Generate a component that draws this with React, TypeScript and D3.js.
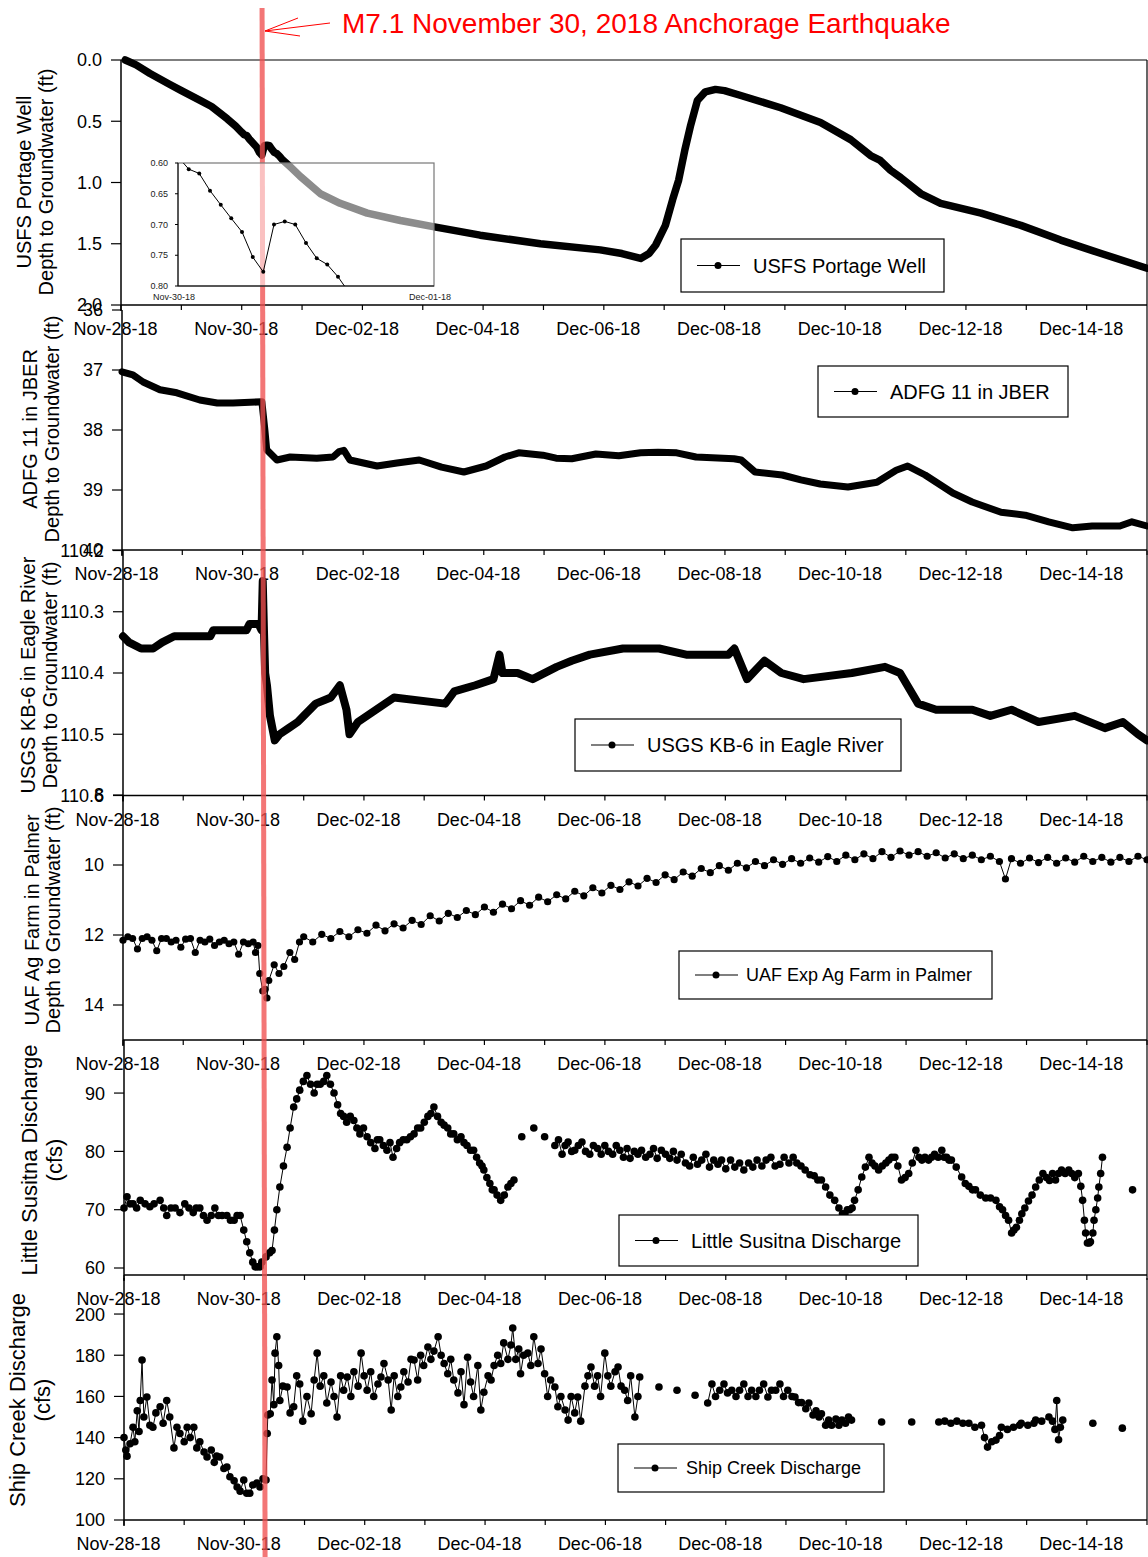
import React, { useEffect } from 'react';
import * as d3 from 'd3';

type Pt = [number, number | null];

const W = 1148;
const H = 1557;
const RIGHT = 1147;
const FONT = "'Liberation Sans', Arial, Helvetica, sans-serif";

// time axis: days since Nov-28-18 00:00
const dayTicks = [0, 1, 2, 3, 4, 5, 6, 7, 8, 9, 10, 11, 12, 13, 14, 15, 16, 17];
const labelDays = [0, 2, 4, 6, 8, 10, 12, 14, 16];
const dateLabels = ['Nov-28-18', 'Nov-30-18', 'Dec-02-18', 'Dec-04-18', 'Dec-06-18', 'Dec-08-18', 'Dec-10-18', 'Dec-12-18', 'Dec-14-18'];
const quakeDay = 2.354;

// USFS Portage Well, depth to groundwater (ft)
const portageWell: Pt[] = [
  [0.07, 0.0], [0.25, 0.04], [0.48, 0.11], [0.81, 0.2], [1.0, 0.25], [1.31, 0.33], [1.5, 0.38], [1.76, 0.48], [1.9, 0.54], [2.0, 0.59],
  [2.042, 0.61], [2.083, 0.617], [2.125, 0.645], [2.167, 0.668], [2.208, 0.69], [2.25, 0.712], [2.292, 0.753], [2.333, 0.777],
  [2.375, 0.7], [2.417, 0.695], [2.458, 0.7], [2.5, 0.73], [2.542, 0.755], [2.583, 0.765], [2.625, 0.785], [2.667, 0.81],
  [2.8, 0.87], [2.97, 0.95], [3.3, 1.09], [3.63, 1.17], [4.08, 1.25], [4.63, 1.31], [5.17, 1.36], [5.95, 1.43], [6.95, 1.5],
  [7.94, 1.55], [8.3, 1.58], [8.61, 1.62], [8.75, 1.58], [8.86, 1.51], [9.02, 1.35], [9.14, 1.14], [9.24, 0.98], [9.34, 0.74],
  [9.44, 0.53], [9.55, 0.33], [9.68, 0.26], [9.85, 0.24], [10.0, 0.25], [10.27, 0.29], [10.93, 0.39], [11.59, 0.51], [12.09, 0.65],
  [12.42, 0.78], [12.58, 0.82], [12.75, 0.9], [12.92, 0.96], [13.25, 1.09], [13.58, 1.17], [14.25, 1.25], [14.91, 1.35],
  [15.57, 1.47], [16.24, 1.58], [17.0, 1.7],
];

// ADFG 11 in JBER, depth to groundwater (ft)
const adfg11: Pt[] = [
  [0, 37.03], [0.18, 37.08], [0.35, 37.2], [0.63, 37.33], [0.91, 37.38], [1.29, 37.5], [1.58, 37.55], [1.84, 37.55], [2.32, 37.53],
  [2.37, 38.0], [2.4, 38.33], [2.57, 38.5], [2.79, 38.45], [3.23, 38.47], [3.5, 38.45], [3.6, 38.36], [3.68, 38.34], [3.78, 38.5],
  [4.23, 38.6], [4.56, 38.55], [4.93, 38.5], [5.3, 38.62], [5.67, 38.7], [6.04, 38.6], [6.35, 38.45], [6.58, 38.38], [6.98, 38.42],
  [7.2, 38.47], [7.46, 38.48], [7.86, 38.4], [8.24, 38.43], [8.6, 38.38], [8.89, 38.37], [9.2, 38.38], [9.52, 38.45], [10.15, 38.48],
  [10.27, 38.5], [10.5, 38.7], [10.95, 38.75], [11.26, 38.83], [11.58, 38.9], [12.04, 38.95], [12.52, 38.87], [12.84, 38.67],
  [13.03, 38.6], [13.32, 38.75], [13.78, 39.05], [14.1, 39.2], [14.58, 39.37], [14.98, 39.42], [15.37, 39.53], [15.77, 39.63],
  [16.09, 39.6], [16.55, 39.6], [16.75, 39.53], [17.0, 39.6],
];

// USGS KB-6 in Eagle River, depth to groundwater (ft)
const kb6: Pt[] = [
  [0, 110.34], [0.1, 110.35], [0.3, 110.36], [0.5, 110.36], [0.65, 110.35], [0.85, 110.34], [1.45, 110.34], [1.5, 110.33],
  [2.05, 110.33], [2.1, 110.32], [2.25, 110.32], [2.3, 110.33], [2.32, 110.25], [2.34, 110.33], [2.36, 110.4], [2.39, 110.42],
  [2.44, 110.47], [2.52, 110.51], [2.6, 110.5], [2.75, 110.49], [2.9, 110.48], [3.0, 110.47], [3.2, 110.45], [3.45, 110.44],
  [3.6, 110.42], [3.71, 110.46], [3.76, 110.5], [3.9, 110.48], [4.2, 110.46], [4.5, 110.44], [5.35, 110.45], [5.5, 110.43],
  [5.85, 110.42], [6.15, 110.41], [6.25, 110.37], [6.3, 110.4], [6.55, 110.4], [6.8, 110.41], [7.2, 110.39], [7.45, 110.38],
  [7.75, 110.37], [8.3, 110.36], [8.9, 110.36], [9.35, 110.37], [10.05, 110.37], [10.15, 110.36], [10.36, 110.41], [10.65, 110.38],
  [10.93, 110.4], [11.3, 110.41], [12.1, 110.4], [12.65, 110.39], [12.9, 110.4], [13.2, 110.45], [13.5, 110.46], [14.1, 110.46],
  [14.4, 110.47], [14.75, 110.46], [15.2, 110.48], [15.8, 110.47], [16.3, 110.49], [16.6, 110.48], [16.85, 110.5], [17.0, 110.51],
];

// UAF Exp Ag Farm in Palmer, depth to groundwater (ft)
const agFarm: Pt[] = [
  [0.0, 12.15], [0.08, 12.05], [0.16, 12.1], [0.24, 12.4], [0.32, 12.1], [0.4, 12.05], [0.48, 12.15], [0.56, 12.45], [0.64, 12.1],
  [0.72, 12.1], [0.8, 12.2], [0.88, 12.15], [0.96, 12.35], [1.04, 12.12], [1.12, 12.1], [1.2, 12.5], [1.28, 12.15], [1.36, 12.2],
  [1.44, 12.12], [1.52, 12.3], [1.6, 12.2], [1.68, 12.15], [1.76, 12.25], [1.84, 12.2], [1.92, 12.55], [2.0, 12.2], [2.08, 12.25],
  [2.16, 12.2], [2.2, 12.5], [2.24, 12.3], [2.27, 13.1], [2.32, 13.6], [2.36, 13.55], [2.39, 13.8], [2.42, 13.3], [2.51, 12.85],
  [2.59, 13.1], [2.67, 12.9], [2.77, 12.5], [2.85, 12.7], [2.93, 12.2], [3.0, 12.05], [3.15, 12.2], [3.3, 11.98], [3.45, 12.1],
  [3.6, 11.9], [3.75, 12.05], [3.9, 11.85], [4.05, 11.95], [4.2, 11.72], [4.35, 11.88], [4.5, 11.68], [4.65, 11.8], [4.8, 11.58],
  [4.95, 11.7], [5.1, 11.45], [5.25, 11.6], [5.4, 11.38], [5.55, 11.5], [5.7, 11.3], [5.85, 11.42], [6.0, 11.2], [6.15, 11.35],
  [6.3, 11.12], [6.45, 11.25], [6.6, 11.02], [6.75, 11.15], [6.9, 10.92], [7.05, 11.05], [7.2, 10.85], [7.35, 10.97], [7.5, 10.75],
  [7.65, 10.88], [7.8, 10.65], [7.95, 10.8], [8.1, 10.58], [8.25, 10.7], [8.4, 10.48], [8.55, 10.6], [8.7, 10.38], [8.85, 10.5],
  [9.0, 10.28], [9.15, 10.42], [9.3, 10.2], [9.45, 10.32], [9.6, 10.1], [9.75, 10.22], [9.9, 10.02], [10.05, 10.15], [10.2, 9.95],
  [10.35, 10.08], [10.5, 9.9], [10.65, 10.02], [10.8, 9.85], [10.95, 9.98], [11.1, 9.82], [11.25, 9.95], [11.4, 9.8], [11.55, 9.92],
  [11.7, 9.76], [11.85, 9.9], [12.0, 9.72], [12.15, 9.85], [12.3, 9.68], [12.45, 9.82], [12.6, 9.62], [12.75, 9.78], [12.9, 9.6],
  [13.05, 9.72], [13.2, 9.62], [13.35, 9.75], [13.5, 9.65], [13.65, 9.8], [13.8, 9.68], [13.95, 9.82], [14.1, 9.72], [14.25, 9.85],
  [14.4, 9.75], [14.55, 9.9], [14.65, 10.4], [14.75, 9.82], [14.9, 9.95], [15.05, 9.8], [15.2, 9.93], [15.35, 9.78], [15.5, 9.95],
  [15.65, 9.8], [15.8, 9.92], [15.95, 9.75], [16.1, 9.9], [16.25, 9.78], [16.4, 9.92], [16.55, 9.78], [16.7, 9.9], [16.85, 9.75],
  [17.0, 9.85],
];

// Little Susitna discharge (cfs)
const littleSusitna: Pt[] = [
  [0.0, 70.3], [0.05, 72.2], [0.1, 71], [0.15, 71], [0.21, 70.3], [0.27, 71.6], [0.35, 71], [0.43, 70.5], [0.5, 71], [0.6, 71.6],
  [0.66, 70.3], [0.71, 69], [0.78, 70.3], [0.85, 70.3], [0.93, 69.5], [1.01, 71], [1.08, 70.3], [1.15, 69.5], [1.2, 70.3],
  [1.26, 70.3], [1.32, 69], [1.38, 68.2], [1.45, 69], [1.51, 70.3], [1.57, 69], [1.63, 69], [1.71, 69], [1.77, 68.2], [1.83, 68.2],
  [1.88, 69], [1.93, 69], [1.99, 66.5], [2.04, 64.5], [2.09, 62.6], [2.14, 61], [2.18, 60.2], [2.22, 60.2], [2.26, 60.2],
  [2.29, 61], [2.36, 61.9], [2.42, 62.6], [2.46, 63], [2.5, 66.5], [2.54, 70], [2.59, 73.9], [2.65, 77.5], [2.71, 80.7],
  [2.76, 84], [2.82, 87.6], [2.87, 89], [2.92, 90.5], [2.98, 92], [3.04, 93], [3.1, 91.5], [3.16, 90], [3.21, 91.5], [3.26, 91.5],
  [3.32, 92], [3.37, 93], [3.43, 91.5], [3.49, 90], [3.55, 88], [3.6, 86.5], [3.65, 86], [3.7, 85], [3.76, 86], [3.82, 85.3],
  [3.87, 84], [3.92, 83], [3.98, 84], [4.04, 82.5], [4.1, 81.5], [4.17, 80.5], [4.21, 82], [4.25, 82], [4.31, 81], [4.37, 80.2],
  [4.42, 81.5], [4.47, 79], [4.53, 80.5], [4.58, 81.5], [4.64, 82], [4.7, 82], [4.76, 82.5], [4.82, 83], [4.88, 84], [4.93, 84],
  [4.99, 85], [5.05, 86], [5.1, 86.5], [5.15, 87.6], [5.21, 86], [5.27, 85], [5.32, 84.5], [5.38, 84], [5.43, 83], [5.48, 83],
  [5.54, 82], [5.6, 82.5], [5.65, 81.5], [5.7, 81], [5.76, 80.2], [5.81, 80.2], [5.86, 79], [5.91, 78], [5.95, 77.5], [5.98, 76.8],
  [6.03, 75.5], [6.08, 74.5], [6.12, 73.4], [6.15, 73.4], [6.2, 72.5], [6.26, 71.6], [6.32, 72.5], [6.38, 73.9], [6.43, 74.5],
  [6.48, 75.1], [6.55, null], [6.61, 82.5], [6.7, null], [6.81, 84], [6.9, null], [6.99, 82.5], [7.08, null],
  [7.16, 81], [7.22, 82], [7.28, 79.5], [7.33, 81], [7.38, 81.6], [7.44, 80], [7.49, 80.2], [7.55, 81], [7.61, 81.6], [7.67, 80],
  [7.74, 79.5], [7.8, 81], [7.87, 80.5], [7.93, 79.5], [7.99, 81], [8.05, 80], [8.12, 79.5], [8.18, 81], [8.24, 80.2], [8.3, 79],
  [8.36, 80.5], [8.41, 78.8], [8.48, 80], [8.54, 79.5], [8.6, 80.2], [8.67, 79], [8.74, 79.5], [8.8, 80.5], [8.86, 78.8],
  [8.93, 80.2], [9.0, 79.5], [9.07, 78.8], [9.13, 80], [9.19, 78.5], [9.26, 79.5], [9.33, 78], [9.4, 77.5], [9.46, 79],
  [9.53, 77.8], [9.6, 78.5], [9.67, 79.5], [9.73, 77.3], [9.8, 78.5], [9.87, 77.8], [9.93, 78.5], [10.0, 77], [10.08, 78.5],
  [10.15, 77.3], [10.23, 78], [10.3, 76.8], [10.38, 78], [10.45, 77.3], [10.52, 78.5], [10.6, 77.5], [10.67, 78.5], [10.75, 79],
  [10.82, 77.5], [10.9, 77.8], [10.97, 79], [11.05, 78], [11.12, 79], [11.18, 78], [11.25, 77.5], [11.32, 76.8], [11.4, 76],
  [11.47, 75.8], [11.53, 75.1], [11.59, 75.1], [11.66, 73.9], [11.73, 72.5], [11.81, 71.6], [11.88, 70.3], [11.94, 69.3],
  [11.98, 69.3], [12.02, 70], [12.06, 70], [12.1, 70.3], [12.14, 71.6], [12.2, 73.4], [12.26, 75.6], [12.32, 77.3], [12.38, 79],
  [12.43, 78], [12.48, 77.5], [12.54, 76.8], [12.6, 77.5], [12.66, 78], [12.71, 78.5], [12.76, 79], [12.81, 79], [12.86, 77.5],
  [12.92, 75.1], [12.98, 75.5], [13.04, 76.2], [13.1, 78], [13.16, 80.2], [13.21, 79], [13.26, 78.5], [13.31, 79], [13.37, 78.5],
  [13.42, 79], [13.47, 79.5], [13.53, 79], [13.59, 80.2], [13.63, 79], [13.67, 79], [13.71, 78.5], [13.75, 78.5], [13.83, 77.3],
  [13.92, 75.6], [13.98, 74.5], [14.04, 74], [14.1, 73.4], [14.15, 73.4], [14.23, 72.5], [14.32, 72], [14.4, 72], [14.49, 71.6],
  [14.55, 70.5], [14.6, 70], [14.65, 69], [14.7, 68.2], [14.75, 66], [14.79, 66.5], [14.83, 67], [14.88, 68.2], [14.92, 69.3],
  [14.97, 70.3], [15.03, 71.5], [15.09, 72.5], [15.15, 73.9], [15.21, 75.1], [15.27, 76.2], [15.33, 75.5], [15.38, 75],
  [15.43, 76.2], [15.48, 75.1], [15.53, 76.2], [15.58, 76.8], [15.64, 76.2], [15.7, 76.8], [15.75, 76.2], [15.8, 75.5],
  [15.86, 76.2], [15.9, 74], [15.93, 71.6], [15.96, 68.2], [15.98, 66], [16.01, 64.3], [16.04, 64.3], [16.06, 64.5], [16.1, 66],
  [16.12, 68.2], [16.15, 70], [16.18, 72], [16.2, 73.9], [16.23, 76.2], [16.26, 79], [16.5, null], [16.76, 73.4],
];

// Ship Creek discharge (cfs)
const shipCreek: Pt[] = [
  [0.0, 140], [0.03, 134], [0.05, 131], [0.1, 137], [0.15, 145], [0.18, 138], [0.22, 153], [0.25, 143], [0.27, 158], [0.3, 177.7],
  [0.33, 150], [0.38, 159.7], [0.43, 146], [0.48, 145], [0.53, 152], [0.6, 155], [0.65, 147], [0.71, 158], [0.76, 150],
  [0.83, 135], [0.88, 145], [0.93, 142], [1.0, 138], [1.05, 145], [1.1, 140], [1.16, 145], [1.21, 135], [1.26, 138], [1.33, 133],
  [1.38, 130.6], [1.45, 134], [1.5, 128], [1.54, 131], [1.59, 130.6], [1.66, 125], [1.71, 125.7], [1.76, 121], [1.83, 119],
  [1.88, 116], [1.93, 114], [1.99, 119.4], [2.04, 113], [2.09, 113], [2.14, 117], [2.21, 118], [2.26, 116], [2.31, 120],
  [2.36, 119.4], [2.38, 142], [2.39, 151], [2.43, 151.6], [2.46, 168], [2.49, 156], [2.51, 181], [2.54, 189], [2.57, 175],
  [2.59, 158], [2.64, 165], [2.71, 164.6], [2.76, 152], [2.82, 155], [2.87, 170], [2.92, 166], [2.97, 148], [3.04, 160],
  [3.11, 151.6], [3.16, 168], [3.21, 181], [3.26, 165], [3.32, 170], [3.37, 156.8], [3.44, 167], [3.49, 160], [3.54, 150],
  [3.6, 170], [3.65, 163], [3.71, 169.4], [3.77, 160], [3.82, 172], [3.89, 165], [3.94, 181], [3.99, 170], [4.04, 163],
  [4.1, 172], [4.15, 160], [4.22, 166], [4.27, 169.4], [4.32, 176], [4.39, 168], [4.44, 153.4], [4.49, 170], [4.55, 160],
  [4.6, 164.6], [4.65, 172], [4.72, 167], [4.77, 178], [4.82, 177.7], [4.88, 168], [4.93, 180], [4.98, 175], [5.05, 184],
  [5.1, 178], [5.15, 182], [5.22, 189], [5.27, 180], [5.32, 176], [5.38, 171], [5.43, 178], [5.48, 168], [5.55, 161.7],
  [5.6, 172], [5.65, 156], [5.71, 179], [5.76, 167], [5.81, 160], [5.88, 175], [5.93, 153.4], [5.98, 162], [6.05, 170],
  [6.1, 168], [6.15, 175], [6.21, 180], [6.26, 176], [6.31, 186], [6.38, 178], [6.43, 185], [6.46, 193.2], [6.51, 178],
  [6.56, 183], [6.59, 171], [6.64, 180], [6.71, 181], [6.76, 175], [6.81, 189], [6.88, 176], [6.93, 183], [6.99, 171],
  [7.04, 160], [7.09, 168], [7.16, 164.6], [7.21, 155], [7.26, 160], [7.33, 153.4], [7.38, 148.5], [7.43, 160], [7.49, 152],
  [7.54, 159.7], [7.59, 148], [7.66, 165], [7.71, 170], [7.76, 174.3], [7.82, 165], [7.87, 170], [7.92, 160], [7.99, 181],
  [8.04, 170], [8.09, 165], [8.16, 172], [8.21, 174.3], [8.26, 165], [8.32, 163], [8.37, 158], [8.42, 170], [8.49, 150],
  [8.54, 160], [8.57, 169.4], [8.7, null], [8.89, 164.6], [9.0, null], [9.19, 163], [9.3, null], [9.49, 160.6], [9.6, null],
  [9.7, 156.8], [9.77, 166], [9.83, 160], [9.9, 163], [9.97, 166], [10.03, 161.7], [10.1, 163], [10.17, 160], [10.23, 163],
  [10.3, 166], [10.37, 160], [10.43, 163], [10.5, 160], [10.56, 163], [10.63, 166], [10.7, 159.7], [10.76, 163], [10.83, 163],
  [10.9, 166], [10.96, 160], [11.03, 163], [11.1, 160], [11.15, 159.7], [11.21, 157], [11.26, 157], [11.33, 154],
  [11.38, 156.8], [11.45, 151], [11.5, 153], [11.55, 150], [11.59, 151.6], [11.66, 146], [11.71, 148.5], [11.76, 146],
  [11.83, 149], [11.88, 146], [11.93, 148.5], [11.99, 147], [12.04, 150], [12.09, 148.5], [12.3, null], [12.59, 147.6],
  [12.8, null], [13.09, 147.6], [13.3, null], [13.54, 147.6], [13.64, 148], [13.74, 147], [13.84, 148], [13.94, 147],
  [14.04, 147], [14.14, 145], [14.25, 146], [14.3, 140], [14.35, 135.4], [14.42, 138], [14.49, 138.8], [14.55, 141],
  [14.58, 145], [14.68, 144], [14.78, 145], [14.88, 146], [14.91, 147], [15.02, 146], [15.12, 147], [15.15, 148.5],
  [15.25, 148], [15.37, 150], [15.43, 148], [15.47, 144], [15.5, 158], [15.53, 139], [15.56, 145], [15.6, 148.5],
  [15.8, null], [16.1, 147], [16.3, null], [16.59, 144.6],
];

// inset (Nov-30 to Dec-01, zoom on the USFS Portage Well)
const insetTicks = [0.6, 0.65, 0.7, 0.75, 0.8];
const insetDateLabels = ['Nov-30-18', 'Dec-01-18'];

interface PanelCfg {
  id: string;
  data: Pt[];
  x0: number;
  top: number;
  bottom: number;
  yDomain: [number, number];
  ticks: number[];
  fmt: (v: number) => string;
  mode: 'thick' | 'dots';
  lineW: number;
  r: number;
  frameTop: boolean;
  legend: { x: number; y: number; w: number; h: number; tx: number; fs: number; label: string };
  title: [string, string];
  titleX: [number, number];
  titleY: number;
  titleFs: number;
}

const panels: PanelCfg[] = [
  {
    id: 'portage', data: portageWell, x0: 121, top: 60, bottom: 305, yDomain: [0, 2], ticks: [0, 0.5, 1, 1.5, 2],
    fmt: d3.format('.1f'), mode: 'thick', lineW: 7.5, r: 0, frameTop: true,
    legend: { x: 681, y: 239, w: 263, h: 53, tx: 753, fs: 20, label: 'USFS Portage Well' },
    title: ['USFS Portage Well', 'Depth to Groundwater (ft)'], titleX: [31, 53], titleY: 182, titleFs: 20,
  },
  {
    id: 'adfg', data: adfg11, x0: 122, top: 310, bottom: 550, yDomain: [36, 40], ticks: [36, 37, 38, 39, 40],
    fmt: d3.format('d'), mode: 'thick', lineW: 7, r: 0, frameTop: false,
    legend: { x: 818, y: 366, w: 250, h: 51, tx: 890, fs: 20, label: 'ADFG 11 in JBER' },
    title: ['ADFG 11 in JBER', 'Depth to Groundwater (ft)'], titleX: [37, 59], titleY: 429, titleFs: 20,
  },
  {
    id: 'kb6', data: kb6, x0: 123, top: 550.5, bottom: 795.5, yDomain: [110.2, 110.6], ticks: [110.2, 110.3, 110.4, 110.5, 110.6],
    fmt: d3.format('.1f'), mode: 'thick', lineW: 8, r: 0, frameTop: false,
    legend: { x: 575, y: 719, w: 326, h: 52, tx: 647, fs: 20, label: 'USGS KB-6 in Eagle River' },
    title: ['USGS KB-6 in Eagle River', 'Depth to Groundwater (ft)'], titleX: [35, 57], titleY: 675, titleFs: 20,
  },
  {
    id: 'agfarm', data: agFarm, x0: 123, top: 795, bottom: 1040, yDomain: [8, 15], ticks: [8, 10, 12, 14],
    fmt: d3.format('d'), mode: 'dots', lineW: 1, r: 3.6, frameTop: false,
    legend: { x: 679, y: 951, w: 313, h: 48, tx: 746, fs: 18, label: 'UAF Exp Ag Farm in Palmer' },
    title: ['UAF Ag Farm in Palmer', 'Depth to Groundwater (ft)'], titleX: [39, 60], titleY: 920, titleFs: 20,
  },
  {
    id: 'susitna', data: littleSusitna, x0: 124, top: 1040, bottom: 1275, yDomain: [99.1, 58.8], ticks: [60, 70, 80, 90],
    fmt: d3.format('d'), mode: 'dots', lineW: 1, r: 3.8, frameTop: false,
    legend: { x: 619, y: 1215, w: 299, h: 51, tx: 691, fs: 20, label: 'Little Susitna Discharge' },
    title: ['Little Susitna Discharge', '(cfs)'], titleX: [37, 62], titleY: 1160, titleFs: 22,
  },
  {
    id: 'ship', data: shipCreek, x0: 124, top: 1278, bottom: 1520, yDomain: [217.5, 100], ticks: [100, 120, 140, 160, 180, 200],
    fmt: d3.format('d'), mode: 'dots', lineW: 1, r: 3.8, frameTop: false,
    legend: { x: 618, y: 1444, w: 266, h: 48, tx: 686, fs: 18, label: 'Ship Creek Discharge' },
    title: ['Ship Creek Discharge', '(cfs)'], titleX: [25, 50], titleY: 1400, titleFs: 22,
  },
];

function Panel({ cfg }: { cfg: PanelCfg }) {
  const x = d3.scaleLinear().domain([0, 17]).range([cfg.x0, RIGHT]);
  const y = d3.scaleLinear().domain(cfg.yDomain).range([cfg.top, cfg.bottom]);
  const line = d3.line<Pt>()
    .defined(d => d[1] !== null)
    .x(d => x(d[0]))
    .y(d => y(d[1] as number));
  const pts = cfg.data.filter(d => d[1] !== null);

  return (
    <g>
      {/* data */}
      {cfg.mode === 'thick' ? (
        <path d={line(cfg.data) || ''} fill="none" stroke="#000" strokeWidth={cfg.lineW}
          strokeLinejoin="round" strokeLinecap="round" />
      ) : (
        <g>
          <path d={line(cfg.data) || ''} fill="none" stroke="#000" strokeWidth={cfg.lineW} />
          {pts.map((d, i) => (
            <circle key={i} cx={x(d[0])} cy={y(d[1] as number)} r={cfg.r} fill="#000" />
          ))}
        </g>
      )}

      {/* frame */}
      {cfg.frameTop && <line x1={cfg.x0} x2={RIGHT} y1={cfg.top} y2={cfg.top} stroke="#000" strokeWidth={1.2} />}
      <line x1={RIGHT} x2={RIGHT} y1={cfg.top} y2={cfg.bottom} stroke="#000" strokeWidth={1.2} />
      <line x1={cfg.x0} x2={cfg.x0} y1={cfg.top} y2={cfg.bottom + 6} stroke="#000" strokeWidth={1.5} />
      <line x1={cfg.x0} x2={RIGHT} y1={cfg.bottom} y2={cfg.bottom} stroke="#000" strokeWidth={1.5} />

      {/* y axis */}
      {cfg.ticks.map(t => (
        <g key={t}>
          <line x1={cfg.x0 - 10} x2={cfg.x0} y1={y(t)} y2={y(t)} stroke="#000" strokeWidth={1.2} />
          <text x={cfg.x0 - 19} y={y(t)} dy="0.36em" textAnchor="end" fontSize={18}>{cfg.fmt(t)}</text>
        </g>
      ))}

      {/* x axis */}
      {dayTicks.map(d => (
        <line key={d} x1={x(d)} x2={x(d)} y1={cfg.bottom} y2={cfg.bottom + 5} stroke="#000" strokeWidth={1.2} />
      ))}
      {labelDays.map((d, i) => (
        <text key={d} x={x(d) - 5.5} y={cfg.bottom + 30} textAnchor="middle" fontSize={18}>{dateLabels[i]}</text>
      ))}

      {/* axis title */}
      {cfg.title.map((t, i) => (
        <text key={i} transform={`translate(${cfg.titleX[i]},${cfg.titleY}) rotate(-90)`} textAnchor="middle"
          fontSize={cfg.titleFs}>{t}</text>
      ))}
    </g>
  );
}

function Legend({ cfg }: { cfg: PanelCfg }) {
  const L = cfg.legend;
  const cy = L.y + L.h / 2;
  return (
    <g>
      <rect x={L.x} y={L.y} width={L.w} height={L.h} fill="#fff" stroke="#000" strokeWidth={1.2} />
      <line x1={L.x + 16} x2={L.x + 59} y1={cy} y2={cy} stroke="#000" strokeWidth={1.2} />
      <circle cx={L.x + 37} cy={cy} r={3.5} fill="#000" />
      <text x={L.tx} y={cy} dy="0.36em" fontSize={L.fs}>{L.label}</text>
    </g>
  );
}

function Inset() {
  const ix = d3.scaleLinear().domain([2, 3]).range([178, 434]);
  const iy = d3.scaleLinear().domain([0.6, 0.8]).range([163, 286]);
  const line = d3.line<Pt>()
    .defined(d => d[1] !== null)
    .x(d => ix(d[0]))
    .y(d => iy(d[1] as number));
  return (
    <g>
      <defs>
        <clipPath id="insetClip">
          <rect x={178} y={163} width={256} height={123} />
        </clipPath>
      </defs>
      <rect x={178} y={163} width={256} height={123} fill="#fff" fillOpacity={0.55} stroke="#777" strokeWidth={1.2} />
      <g clipPath="url(#insetClip)">
        <path d={line(portageWell) || ''} fill="none" stroke="#000" strokeWidth={1} />
        {portageWell.map((d, i) => (
          <circle key={i} cx={ix(d[0])} cy={iy(d[1] as number)} r={2} fill="#000" />
        ))}
      </g>
      <line x1={178} x2={178} y1={163} y2={286} stroke="#000" strokeWidth={1} />
      <line x1={178} x2={434} y1={286} y2={286} stroke="#000" strokeWidth={1} />
      {insetTicks.map(t => (
        <g key={t}>
          <line x1={175} x2={178} y1={iy(t)} y2={iy(t)} stroke="#000" strokeWidth={1} />
          <text x={168} y={iy(t)} dy="0.35em" textAnchor="end" fontSize={9} fill="#222">{d3.format('.2f')(t)}</text>
        </g>
      ))}
      {insetDateLabels.map((lab, i) => (
        <text key={lab} x={ix(2 + i) - 4} y={300} textAnchor="middle" fontSize={9} fill="#222">{lab}</text>
      ))}
    </g>
  );
}

export default function App() {
  useEffect(() => {
    document.body.style.margin = '0';
    document.body.style.overflow = 'hidden';
  }, []);

  const xq0 = d3.scaleLinear().domain([0, 17]).range([121, RIGHT]);

  return (
    <svg width={W} height={H} viewBox={`0 0 ${W} ${H}`}
      style={{ position: 'absolute', left: 0, top: 0, display: 'block', background: '#fff' }}
      fontFamily={FONT}>
      <rect x={0} y={0} width={W} height={H} fill="#fff" />
      {panels.map(p => <Panel key={p.id} cfg={p} />)}

      {/* earthquake marker */}
      <line x1={xq0(quakeDay) - 1} x2={xq0(quakeDay) + 2} y1={8} y2={H} stroke="rgb(240,80,80)" strokeOpacity={0.78} strokeWidth={5} />

      <Inset />
      {panels.map(p => <Legend key={p.id} cfg={p} />)}

      <g stroke="#f00" strokeWidth={1}>
        <line x1={330} y1={23} x2={265} y2={31} />
        <line x1={265} y1={31} x2={298} y2={18} />
        <line x1={265} y1={31} x2={300} y2={36} />
      </g>
      <text x={342} y={33} fontSize={28} fill="#f00">M7.1 November 30, 2018 Anchorage Earthquake</text>
    </svg>
  );
}
